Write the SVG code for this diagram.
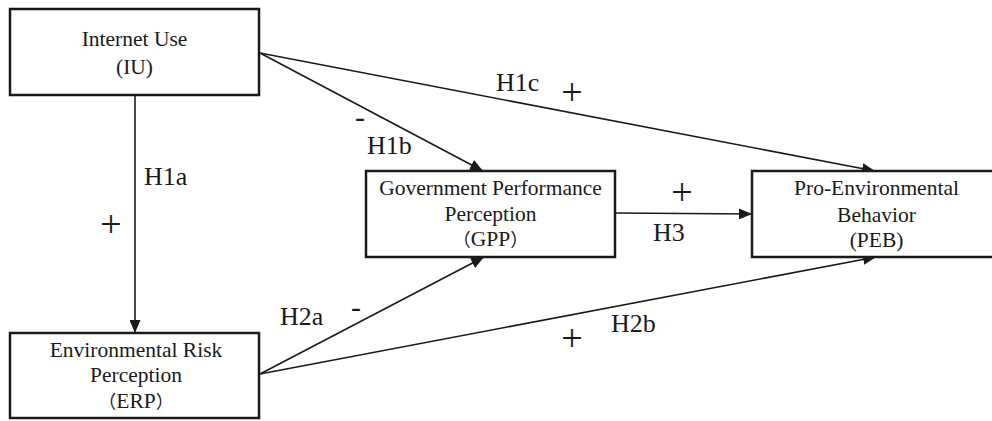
<svg xmlns="http://www.w3.org/2000/svg" width="992" height="421" viewBox="0 0 992 421">
<style>
.box{fill:#fff;stroke:#1a1a1a;stroke-width:2.5}
.t{font-family:"Liberation Serif","Noto Sans CJK SC",serif;font-size:21.5px;fill:#1a1a1a;text-anchor:middle}
.cjk{font-family:"Noto Sans CJK SC",sans-serif;font-size:18px}
.lab{font-family:"Liberation Serif",serif;font-size:26px;fill:#1a1a1a}
.sg{font-family:"Liberation Serif",serif;font-size:38px;fill:#1a1a1a;text-anchor:middle}
.mn{font-family:"Liberation Serif",serif;font-size:30px;fill:#1a1a1a;text-anchor:middle}
.c{stroke:#1a1a1a;stroke-width:1.6;fill:none;marker-end:url(#ah)}
</style>
<defs>
<marker id="ah" markerUnits="userSpaceOnUse" markerWidth="13" markerHeight="11" refX="13" refY="5.5" orient="auto">
<path d="M0,0 L13,5.5 L0,11 z" fill="#1a1a1a"/>
</marker>
</defs>
<rect width="992" height="421" fill="#fff"/>
<g id="connectors">
<line class="c" x1="135" y1="95" x2="135" y2="333"/>
<line class="c" x1="260" y1="53" x2="483" y2="171"/>
<line class="c" x1="260" y1="53" x2="875" y2="171"/>
<line class="c" x1="615" y1="213" x2="752" y2="214"/>
<line class="c" x1="260" y1="374" x2="484" y2="257"/>
<line class="c" x1="260" y1="374" x2="876" y2="257"/>
</g>
<g id="IU">
<rect class="box" x="10" y="9" width="249" height="86"/>
<text class="t" x="134.5" y="46">Internet Use</text>
<text class="t" x="134.5" y="74">(IU)</text>
</g>
<g id="GPP">
<rect class="box" x="366" y="171" width="249" height="86"/>
<text class="t" x="490.5" y="195">Government Performance</text>
<text class="t" x="490.5" y="221">Perception</text>
<text class="t" x="490.5" y="246"><tspan class="cjk">（</tspan>GPP<tspan class="cjk">）</tspan></text>
</g>
<g id="PEB">
<rect class="box" x="752" y="171" width="260" height="86"/>
<text class="t" x="876.5" y="195">Pro-Environmental</text>
<text class="t" x="876.5" y="222">Behavior</text>
<text class="t" x="876.5" y="247">(PEB)</text>
</g>
<g id="ERP">
<rect class="box" x="10" y="333" width="249" height="85"/>
<text class="t" x="136" y="357">Environmental Risk</text>
<text class="t" x="136" y="382">Perception</text>
<text class="t" x="136" y="408"><tspan class="cjk">（</tspan>ERP<tspan class="cjk">）</tspan></text>
</g>
<g id="labels">
<text class="lab" x="496" y="91">H1c</text>
<text class="sg" x="572" y="105">+</text>
<text class="lab" x="367" y="154">H1b</text>
<text class="mn" x="360" y="127">-</text>
<text class="lab" x="144" y="185">H1a</text>
<text class="sg" x="111" y="237">+</text>
<text class="lab" x="653" y="241">H3</text>
<text class="sg" x="682" y="205">+</text>
<text class="lab" x="280" y="325">H2a</text>
<text class="mn" x="356" y="317">-</text>
<text class="lab" x="611" y="332">H2b</text>
<text class="sg" x="572" y="351">+</text>
</g>
</svg>
